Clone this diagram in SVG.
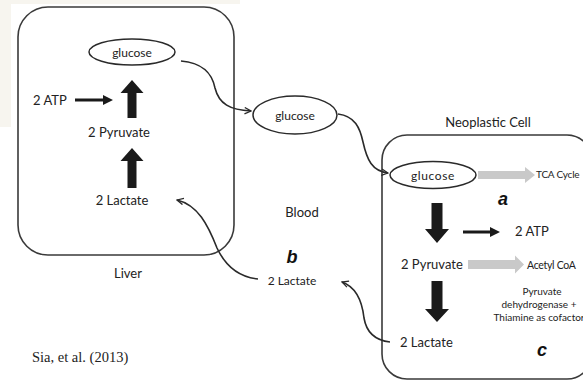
<svg xmlns="http://www.w3.org/2000/svg" width="583" height="381" viewBox="0 0 583 381">
<style>
.box{fill:none;stroke:#3a3a3a;stroke-width:1.6}
.ell{fill:#fff;stroke:#2a2a2a;stroke-width:1.5}
.con{fill:none;stroke:#2a2a2a;stroke-width:1.6}
.blk{fill:#1a1a1a}
.gry{fill:#c9c9c9}
.t{font-family:Lato,"Open Sans","Liberation Sans",sans-serif;fill:#222;dominant-baseline:central}
.s12{font-size:13px}
.s11{font-size:12px}
.s10{font-size:10.5px}
.s9{font-size:10px}
.lab{font-family:"Liberation Sans",Arial,sans-serif;font-weight:bold;font-style:italic;font-size:18px;fill:#111;dominant-baseline:central;text-anchor:middle}
.mid{text-anchor:middle}
</style>
<defs>
<marker id="open" viewBox="0 0 10 10" refX="9" refY="5" markerWidth="8" markerHeight="8" markerUnits="userSpaceOnUse" orient="auto">
<path d="M1,1 L9,5 L1,9" fill="none" stroke="#2a2a2a" stroke-width="1.6"/>
</marker>
</defs>
<rect width="583" height="381" fill="#fff"/>
<path d="M0,0 H240 V4 H11 V127 H0 Z" fill="#f7f5ef"/>

<g id="liver">
<rect class="box" x="18" y="7" width="216" height="248" rx="30"/>
<text class="t s12 mid" x="128" y="273">Liver</text>
</g>
<g id="liver-glucose">
<ellipse class="ell" cx="132" cy="52" rx="43" ry="13"/>
<text class="t s11 mid" x="132" y="52">glucose</text>
</g>
<g id="liver-atp">
<text class="t s12" x="33" y="100">2 ATP</text>
<polygon class="blk" points="75,98.5 103,98.5 103,95 113,100 103,105 103,101.5 75,101.5"/>
</g>
<g id="liver-pyruvate">
<text class="t s12 mid" x="119" y="132">2 Pyruvate</text>
<polygon class="blk" points="132,80 143.5,93 136.5,93 136.5,118 127.5,118 127.5,93 120.5,93"/>
</g>
<g id="liver-lactate">
<text class="t s12 mid" x="122" y="200">2 Lactate</text>
<polygon class="blk" points="132,148 143.5,161 136.5,161 136.5,188 127.5,188 127.5,161 120.5,161"/>
</g>

<g id="blood">
<text class="t s12 mid" x="302" y="212">Blood</text>
</g>
<g id="blood-glucose">
<ellipse class="ell" cx="295" cy="115" rx="42" ry="19"/>
<text class="t s11 mid" x="295" y="115">glucose</text>
</g>
<g id="blood-lactate">
<text class="lab" x="292" y="257">b</text>
<text class="t s11 mid" x="292" y="280" fill="#444">2 Lactate</text>
</g>

<g id="neoplastic">
<text class="t s12 mid" x="488" y="122">Neoplastic Cell</text>
<rect class="box" x="382" y="135" width="210" height="244" rx="25"/>
</g>
<g id="neo-glucose">
<ellipse class="ell" cx="433" cy="175" rx="43" ry="13.5"/>
<text class="t s11 mid" x="433" y="175" letter-spacing="0.6">glucose</text>
</g>
<g id="tca">
<polygon class="gry" points="478,171 525,171 525,167 535,175 525,183 525,179 478,179"/>
<text class="t s9" x="536" y="174" letter-spacing="-0.2">TCA Cycle</text>
<text class="lab" x="503" y="199">a</text>
</g>
<g id="neo-atp">
<polygon class="blk" points="437,203 442.5,203 442.5,229 449,229 437,243 425,229 431.5,229 431.5,203"/>
<polygon class="blk" points="463,230.5 490,230.5 490,227 500,232 490,237 490,233.5 463,233.5"/>
<text class="t s12" x="515" y="231">2 ATP</text>
</g>
<g id="neo-pyruvate">
<text class="t s12" x="401" y="264">2 Pyruvate</text>
<polygon class="gry" points="468,260 515,260 515,255.5 524,264.5 515,273.5 515,269 468,269"/>
<text class="t s10" x="527" y="265" letter-spacing="-0.3">Acetyl CoA</text>
<text class="t s9 mid" x="542" y="291">Pyruvate</text>
<text class="t s9 mid" x="539" y="304">dehydrogenase  +</text>
<text class="t s9 mid" x="539" y="317">Thiamine as cofactor</text>
</g>
<g id="neo-lactate">
<polygon class="blk" points="437,281 442.5,281 442.5,309 449,309 437,322 425,309 431.5,309 431.5,281"/>
<text class="t s12" x="400" y="342" fill="#333">2 Lactate</text>
<text class="lab" x="542" y="350">c</text>
</g>

<g id="connectors">
<path class="con" marker-end="url(#open)" d="M181,61 C203,63 212,73 215,88 C219,104 230,110 251,111"/>
<path class="con" marker-end="url(#open)" d="M338,114 C355,116 360,128 363,142 C367,160 372,171 388,173"/>
<path class="con" marker-end="url(#open)" d="M390,342 C372,340 366,330 364,318 C362,300 356,287 342,282"/>
<path class="con" marker-end="url(#open)" d="M258,279 C238,277 225,265 217,248 C208,225 198,205 177,200"/>
</g>

<text x="32" y="357" font-family="'Liberation Serif','Times New Roman',serif" font-size="14.5" fill="#222" dominant-baseline="central">Sia, et al. (2013)</text>
</svg>
